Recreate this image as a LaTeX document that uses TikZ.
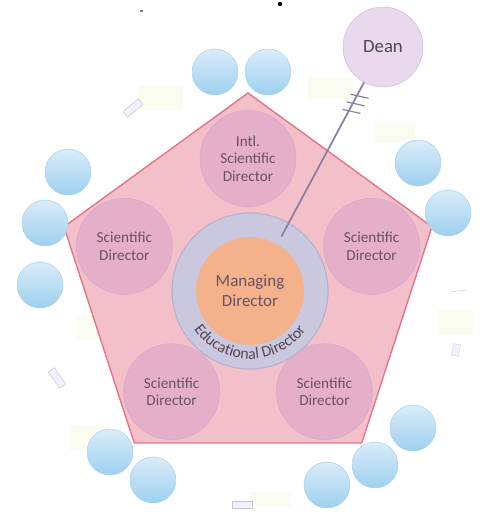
\documentclass[tikz,border=0pt]{standalone}
\usepackage{fontspec}
\setmainfont{Carlito}
\usetikzlibrary{calc}
\usetikzlibrary{decorations.text}

\definecolor{pentfill}{RGB}{243,192,202}
\definecolor{pentedge}{RGB}{226,118,138}
\definecolor{sdfill}{RGB}{210,150,200}
\definecolor{sdedge}{RGB}{214,165,205}
\definecolor{ringfill}{RGB}{202,200,222}
\definecolor{ringedge}{RGB}{180,178,205}
\definecolor{mgrfill}{RGB}{244,178,140}
\definecolor{deanfill}{RGB}{234,216,238}
\definecolor{deanedge}{RGB}{205,185,215}
\definecolor{deanln}{RGB}{140,128,162}
\definecolor{bubtop}{RGB}{218,236,249}
\definecolor{bubbot}{RGB}{158,208,240}
\definecolor{bubedge}{RGB}{165,208,236}
\definecolor{txt}{RGB}{105,82,98}
\definecolor{blob}{RGB}{228,242,180}

\begin{document}
\begin{tikzpicture}[x=0.03cm,y=0.03cm,
    sdir/.style={circle,draw=sdedge,fill=sdfill,fill opacity=0.4,text opacity=1,
        minimum size=2.88cm,inner sep=0pt,align=center,text=txt,
        font=\fontsize{13}{15}\selectfont},
    bubble/.style={circle,draw=bubedge,top color=bubtop,bottom color=bubbot,
        minimum size=1.38cm,inner sep=0pt},
    lnk/.style={rectangle,draw=gray!45,fill=blue!6,minimum width=0.6cm,
        minimum height=0.22cm,inner sep=0pt},
    deanline/.style={draw=deanln,line width=1.5pt}]

    \useasboundingbox (0,0) rectangle (483,518);

    % --- Taches pâles du fond ---
    \foreach \x/\y/\w/\h in {160/420/45/25, 330/430/45/22, 395/385/40/20, 455/195/35/25, 95/190/35/25, 90/80/40/25, 270/18/40/15}
        \fill[blob,opacity=0.22] (\x-\w/2,\y-\h/2) rectangle (\x+\w/2,\y+\h/2);

    % --- Pentagone ---
    \coordinate (pc) at (248,231.5);
    \foreach \i/\a in {1/90,2/162,3/234,4/306,5/18}
        \coordinate (P\i) at ($(pc)+(\a:193.5)$);
    \draw[pentedge,fill=pentfill,line width=1.2pt] (P1) -- (P2) -- (P3) -- (P4) -- (P5) -- cycle;

    % --- Directeurs scientifiques ---
    \node[sdir] (intl) at ($(pc)+(90:128)$) {Intl.\\Scientific\\Director};
    \node[sdir] (sdl)  at ($(pc)+(162:130)$) {Scientific\\Director};
    \node[sdir] (sdr)  at ($(pc)+(18:130)$) {Scientific\\Director};
    \node[sdir] (sdbl) at ($(pc)+(234:130)$) {Scientific\\Director};
    \node[sdir] (sdbr) at ($(pc)+(306:130)$) {Scientific\\Director};

    % --- Anneau et cercle central ---
    \coordinate (mc) at (250,227);
    \node[circle,draw=ringedge,line width=1pt,fill=ringfill,minimum size=4.68cm] (edu) at (mc) {};
    \node[circle,fill=mgrfill,minimum size=3.24cm,inner sep=0pt,align=center,text=txt,
        font=\fontsize{14.5}{17}\selectfont] (mgr) at (mc) {Managing\\Director};
    \path[decorate,decoration={text along path,text align=center,text color=txt!85!black,
        text={|\fontsize{13.5}{13.5}\selectfont|Educational Director}}]
        ($(mc)+(200:68)$) arc[start angle=200,end angle=340,radius=68];

    % --- Dean ---
    \node[circle,draw=deanedge,fill=deanfill,minimum size=2.4cm,inner sep=0pt,text=txt!80!black,
        font=\fontsize{16}{16}\selectfont] (dean) at (383,471) {Dean};
    \coordinate (deanend) at ($(mc)+(60:63)$);
    \draw[deanline] (dean) -- (deanend);
    \foreach \t in {0.26,0.30,0.34}
        \draw[deanline,line width=1pt] ($(dean)!\t!(deanend)$) ++(-6,2) -- ++(18,-4);

    % --- Bulles bleues ---
    \foreach \n/\x/\y in {b1/215/446, b2/268/446, b3/68/346, b4/45/295, b5/40/233, b6/418/355, b7/448/305, b8/110/66, b9/153/38, b10/413/90, b11/375/53, b12/327/33}
        \node[bubble] (\n) at (\x,\y) {};

    % --- Petits liens ---
    \node[lnk,rotate=40] (l1) at (133,410) {};
    \node[lnk,rotate=-55] (l2) at (57,140) {};
    \node[lnk] (l3) at (242,13) {};
    \node[lnk,rotate=80,minimum width=0.35cm,draw=gray!30] (l4) at (456,168) {};
    \draw[gray!40] (450,226) -- (466,228);

    % --- Marques en haut ---
    \fill (280,514) circle (2.2);
    \fill[gray] (140,506) rectangle (143,508);

\end{tikzpicture}
\end{document}
